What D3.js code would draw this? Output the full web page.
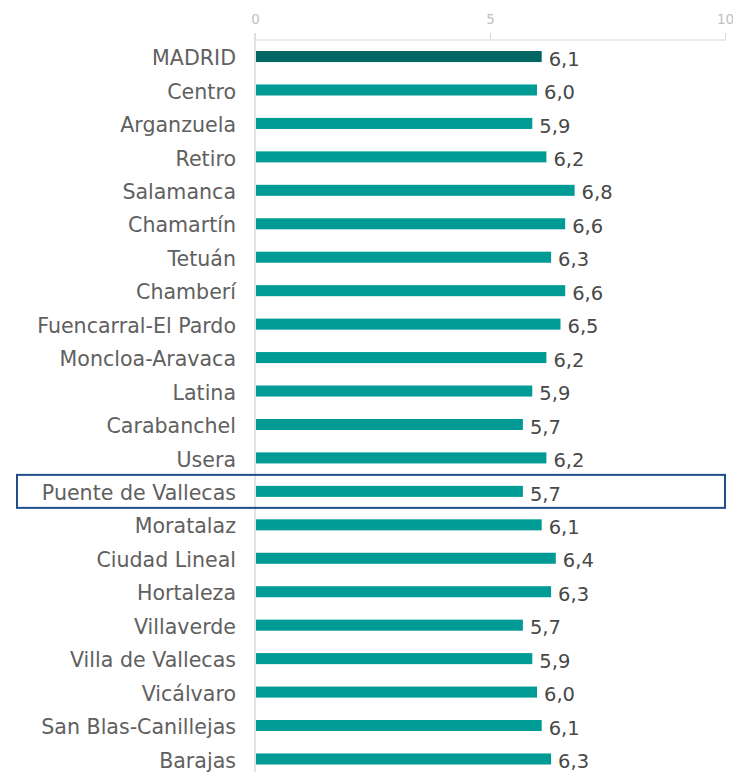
<!DOCTYPE html>
<html>
<head>
<meta charset="utf-8">
<script src="https://cdn.jsdelivr.net/npm/d3@7"></script>
<style>
  html, body { margin: 0; padding: 0; background: #fff; }
  svg { display: block; }
</style>
</head>
<body>
<svg id="chart" width="733" height="772"></svg>
<script>
const categories = ["MADRID","Centro","Arganzuela","Retiro","Salamanca","Chamartín","Tetuán","Chamberí","Fuencarral-El Pardo","Moncloa-Aravaca","Latina","Carabanchel","Usera","Puente de Vallecas","Moratalaz","Ciudad Lineal","Hortaleza","Villaverde","Villa de Vallecas","Vicálvaro","San Blas-Canillejas","Barajas"];
const values = [6.1,6.0,5.9,6.2,6.8,6.6,6.3,6.6,6.5,6.2,5.9,5.7,6.2,5.7,6.1,6.4,6.3,5.7,5.9,6.0,6.1,6.3];
const tickValues = [0,5,10];
const highlighted = "Puente de Vallecas";
const totalLabel = "MADRID";

const svg = d3.select("#chart");
const fontFam = "'DejaVu Sans', sans-serif";

const x = d3.scaleLinear().domain([0,10]).range([255,725]);
const y = d3.scaleBand().domain(categories).range([39.8, 39.8 + 33.45*22])
  .paddingInner(0.67).paddingOuter(0.335);

// axis (top)
const axis = d3.axisTop(x).tickValues(tickValues).tickSize(7).tickPadding(9).tickFormat(d3.format("d"));
const gAxis = svg.append("g").attr("transform","translate(0,40)").call(axis);
gAxis.select(".domain").attr("stroke","#d9d9d9").attr("d","M255,0H726");
gAxis.selectAll(".tick line").attr("stroke","#d9d9d9");
gAxis.selectAll(".tick text").attr("fill","#bfbfbf").style("font-family",fontFam).style("font-size","13.5px");

// vertical axis line
svg.append("line").attr("x1",255).attr("x2",255).attr("y1",33).attr("y2",772)
  .attr("stroke","#d9d9d9").attr("stroke-width",1.5);

const data = categories.map((c,i)=>({c, v: values[i]}));

// bars
svg.append("g").selectAll("rect").data(data).join("rect")
  .attr("x", x(0)+1)
  .attr("y", d=>y(d.c))
  .attr("width", d=>x(d.v)-x(0)-1)
  .attr("height", y.bandwidth())
  .attr("fill", d=> d.c===totalLabel ? "#026762" : "#009b95");

// category labels
const lab = svg.append("g").selectAll("text").data(data).join("text")
  .attr("x", 236)
  .attr("y", d=>y(d.c)+y.bandwidth()/2)
  .attr("dy","0.42em")
  .attr("text-anchor","end")
  .attr("fill","#606060")
  .style("font-family",fontFam)
  .style("font-size","17px")
  .text(d=>d.c);

// fit font size to reference width of the longest label
const fitNode = lab.filter(d=>d.c==="Fuencarral-El Pardo").node();
const w = fitNode.getComputedTextLength();
const fs = 17*199/w;
lab.style("font-size", fs+"px");

// value labels
const fmt = v => d3.format(".1f")(v).replace(".", ",");
svg.append("g").selectAll("text").data(data).join("text")
  .attr("x", d=>x(d.v)+7)
  .attr("y", d=>y(d.c)+y.bandwidth()/2+2.3)
  .attr("dy","0.35em")
  .attr("fill","#484848")
  .style("font-family",fontFam)
  .style("font-size","19.5px")
  .text(d=>fmt(d.v));

// highlight box
const hy = y(highlighted) + y.bandwidth()/2;
svg.append("rect").attr("x",17).attr("y",hy-16.5).attr("width",708).attr("height",33)
  .attr("fill","none").attr("stroke","#1f4e8c").attr("stroke-width",2);
</script>
</body>
</html>
